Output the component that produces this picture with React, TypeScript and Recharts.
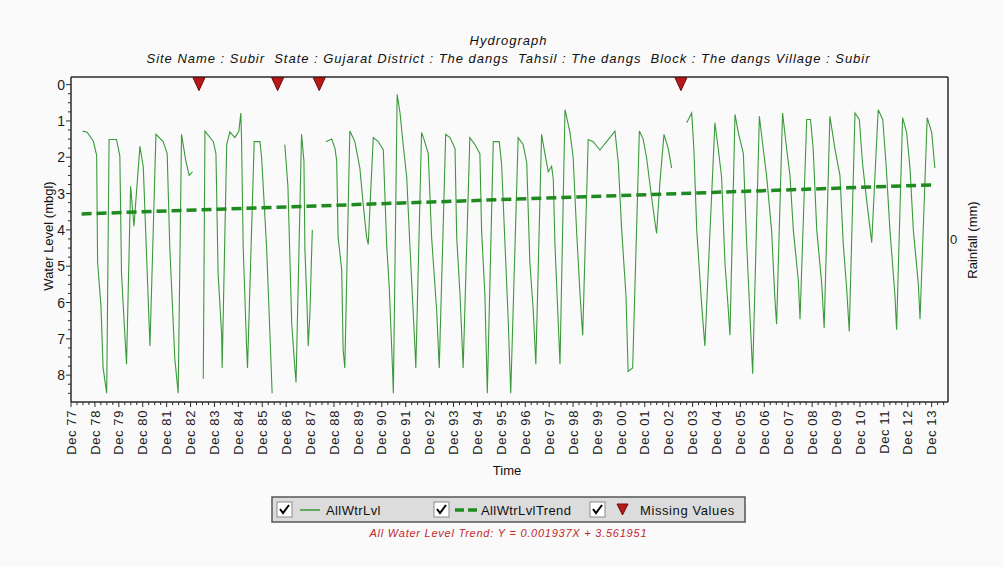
import React from 'react';
import { ComposedChart, Line, Scatter, XAxis, YAxis, ReferenceLine } from 'recharts';

const FONT = '"Liberation Sans", Arial, sans-serif';

// Time axis tick labels (one per December)
const tickLabels = [
  'Dec 77', 'Dec 78', 'Dec 79', 'Dec 80', 'Dec 81', 'Dec 82', 'Dec 83', 'Dec 84', 'Dec 85', 'Dec 86',
  'Dec 87', 'Dec 88', 'Dec 89', 'Dec 90', 'Dec 91', 'Dec 92', 'Dec 93', 'Dec 94', 'Dec 95', 'Dec 96',
  'Dec 97', 'Dec 98', 'Dec 99', 'Dec 00', 'Dec 01', 'Dec 02', 'Dec 03', 'Dec 04', 'Dec 05', 'Dec 06',
  'Dec 07', 'Dec 08', 'Dec 09', 'Dec 10', 'Dec 11', 'Dec 12', 'Dec 13',
];
const firstDec = 1977.917;
const xEnd = 2014.6;
const yDomain: [number, number] = [-0.21, 8.74];
const levelTickLabels = [0, 1, 2, 3, 4, 5, 6, 7, 8];

// AllWtrLvl: decimal year and water level (mbgl); null = gap (missing value)
const levelT = [
  1978.40, 1978.59, 1978.85, 1978.99, 1979.03, 1979.17, 1979.26, 1979.41, 1979.51, 1979.82,
  1979.96, 1980.03, 1980.17, 1980.24, 1980.41, 1980.55, 1980.80, 1980.94, 1981.10, 1981.22,
  1981.47, 1981.77, 1981.94, 1982.05, 1982.26, 1982.40, 1982.54, 1982.72, 1982.86, 1983.00,
  1983.27,
  1983.45, 1983.52, 1983.87, 1983.98, 1984.07, 1984.22, 1984.24, 1984.43, 1984.56, 1984.77,
  1984.94, 1985.02, 1985.05, 1985.12, 1985.26, 1985.30, 1985.58, 1985.82, 1985.89, 1986.10,
  1986.24, 1986.33,
  1986.56,
  1986.86, 1986.99, 1987.15, 1987.28, 1987.33, 1987.56, 1987.66, 1987.70, 1987.80, 1987.84,
  1987.91, 1988.01,
  1988.30,
  1988.58, 1988.82, 1988.96, 1989.03, 1989.09, 1989.24, 1989.30, 1989.37, 1989.58, 1989.79,
  1990.00, 1990.14, 1990.28, 1990.35, 1990.42, 1990.56, 1990.77, 1990.98, 1991.12, 1991.23,
  1991.37, 1991.40, 1991.56, 1991.68, 1991.81, 1991.96, 1992.09, 1992.30, 1992.34, 1992.58,
  1992.68, 1992.86, 1993.00, 1993.21, 1993.32, 1993.59, 1993.77, 1993.98, 1994.05, 1994.19,
  1994.32, 1994.60, 1994.81, 1995.02, 1995.09, 1995.23, 1995.33, 1995.58, 1995.83, 1995.93,
  1996.07, 1996.20, 1996.31, 1996.62, 1996.83, 1996.98, 1997.11, 1997.25, 1997.36, 1997.60,
  1997.74, 1997.88, 1998.02, 1998.09, 1998.16, 1998.30, 1998.37, 1998.58, 1998.79, 1998.92,
  1999.07, 1999.21, 1999.32, 1999.55, 1999.76, 2000.04, 2000.32, 2000.67, 2000.81, 2000.95,
  2001.13, 2001.22, 2001.41, 2001.69, 2001.85, 2001.99, 2002.20, 2002.41, 2002.55, 2002.72,
  2002.90, 2003.04,
  2003.43,
  2003.67, 2003.88, 2003.97, 2004.09, 2004.30, 2004.43, 2004.85, 2004.99, 2005.13, 2005.27,
  2005.41, 2005.48, 2005.69, 2005.83, 2006.04, 2006.18, 2006.32, 2006.43, 2006.71, 2006.87,
  2007.01, 2007.22, 2007.36, 2007.43, 2007.68, 2007.85, 2007.99, 2008.13, 2008.34, 2008.41,
  2008.69, 2008.85, 2008.96, 2009.11, 2009.32, 2009.42, 2009.66, 2009.87, 2010.08, 2010.22,
  2010.36, 2010.47, 2010.71, 2010.89, 2011.03, 2011.20, 2011.41, 2011.68, 2011.87, 2012.01,
  2012.17, 2012.38, 2012.45, 2012.70, 2012.87, 2013.01, 2013.15, 2013.36, 2013.43, 2013.73,
  2013.92, 2014.05,
];
const levelV: (number | null)[] = [
  1.28, 1.31, 1.56, 1.95, 4.9, 6.1, 7.8, 8.5, 1.51, 1.51,
  1.97, 5.2, 6.9, 7.7, 2.8, 3.9, 1.7, 2.26, 5.1, 7.2,
  1.37, 1.57, 1.9, 4.5, 7.55, 8.5, 1.37, 2.1, 2.5, 2.4,
  null,
  8.1, 1.28, 1.57, 1.9, 5.2, 6.9, 7.8, 1.65, 1.3, 1.46,
  1.28, 0.78, 1.46, 4.5, 7.2, 7.8, 1.57, 1.57, 2.0, 4.5,
  6.9, 8.5,
  null,
  1.65, 2.8, 6.6, 7.8, 8.2, 1.37, 2.1, 4.5, 6.3, 7.2,
  6.3, 4.0,
  null,
  1.57, 1.5, 1.76, 2.1, 4.2, 5.1, 7.3, 7.8, 1.28, 1.57,
  2.3, 3.3, 4.2, 4.4, 3.4, 1.46, 1.57, 1.8, 4.4, 5.6,
  7.9, 8.5, 0.27, 0.78, 1.65, 2.55, 4.4, 7.2, 7.8, 1.32,
  1.5, 1.9, 4.2, 6.2, 7.8, 1.37, 1.46, 1.76, 4.2, 5.8,
  7.8, 1.46, 1.65, 1.9, 4.0, 5.8, 8.5, 1.57, 1.57, 2.2,
  4.4, 6.4, 8.5, 1.46, 1.65, 2.15, 4.9, 6.2, 7.7, 1.37,
  1.9, 2.4, 2.25, 2.6, 4.4, 6.6, 7.7, 0.69, 1.32, 2.0,
  4.1, 5.8, 6.9, 1.51, 1.57, 1.8, 1.57, 1.28, 2.15, 4.0,
  5.8, 7.9, 7.8, 1.28, 1.5, 2.0, 3.1, 4.1, 2.7, 1.37,
  1.76, 2.3,
  null,
  1.05, 0.78, 1.76, 4.0, 6.1, 7.2, 1.05, 1.76, 2.55, 4.9,
  6.2, 6.9, 0.82, 1.32, 1.9, 4.4, 6.4, 7.96, 0.87, 1.76,
  2.5, 4.0, 5.9, 6.6, 0.78, 1.76, 2.5, 4.0, 5.4, 6.46,
  0.96, 0.96, 1.76, 4.0, 5.5, 6.7, 0.87, 1.76, 2.5, 4.4,
  5.6, 6.8, 0.78, 0.96, 2.2, 3.2, 4.35, 0.69, 0.96, 2.2,
  4.0, 5.8, 6.75, 0.91, 1.32, 2.3, 4.0, 5.5, 6.46, 0.91,
  1.32, 2.3,
];

// AllWtrLvlTrend (linear)
const trendT = [1978.36, 2014.05];
const trendV = [3.56, 2.76];

// Missing values markers
const missingT = [1983.27, 1986.56, 1988.30, 2003.43];
const missingV = [0, 0, 0, 0];

const levelData = levelT.map((t, i) => ({ t, v: levelV[i] }));
const trendData = trendT.map((t, i) => ({ t, v: trendV[i] }));
const missingData = missingT.map((t, i) => ({ t, v: missingV[i] }));

const xTicks: number[] = [];
for (let k = 0; firstDec + k * 0.25 <= xEnd; k++) xTicks.push(+(firstDec + k * 0.25).toFixed(4));
const yTicks: number[] = [];
for (let k = 0; k * 0.25 <= 8.5; k++) yTicks.push(k * 0.25);

const LINE_GREEN = '#3a9a3a';
const TREND_GREEN = '#1f8a1f';
const AXIS = '#2a2a2a';

const XTick = (props: any) => {
  const { x, y, payload } = props;
  const k = Math.round((payload.value - firstDec) / 0.25);
  const major = k % 4 === 0;
  const label = major ? tickLabels[k / 4] : undefined;
  const ly = y + 8;
  return (
    <g>
      <line x1={x} x2={x} y1={y} y2={y + (major ? 5 : 3)} stroke={AXIS} strokeWidth={1} />
      {label && (
        <text x={x} y={ly} transform={`rotate(-90 ${x} ${ly})`} textAnchor="end" dy="0.36em"
          fontSize={13} fontFamily={FONT} fill="#1a1a1a" letterSpacing={0.6}>{label}</text>
      )}
    </g>
  );
};

const YTick = (props: any) => {
  const { x, y, payload } = props;
  const v = payload.value;
  const major = Math.abs(v - Math.round(v)) < 1e-6;
  const label = major && levelTickLabels.includes(Math.round(v)) ? String(Math.round(v)) : undefined;
  return (
    <g>
      <line x1={x - (major ? 5 : 3)} x2={x} y1={y} y2={y} stroke={AXIS} strokeWidth={1} />
      {label !== undefined && (
        <text x={x - 6} y={y} dy="0.36em" textAnchor="end" fontSize={14} fontFamily={FONT} fill="#1a1a1a">{label}</text>
      )}
    </g>
  );
};

const RainTick = (props: any) => {
  const { x, y, payload } = props;
  return (
    <text x={x + 2} y={y} dy="0.36em" textAnchor="start" fontSize={13} fontFamily={FONT} fill="#1a1a1a">{String(payload.value)}</text>
  );
};

const MissingShape = (props: any) => {
  const { cx, cy } = props;
  if (cx == null || cy == null) return null;
  return (
    <polygon points={`${cx - 6},${cy - 7} ${cx + 6},${cy - 7} ${cx},${cy + 6}`} fill="#b51a1a" stroke="#6e0c0c" strokeWidth={1} />
  );
};

const CheckBox = ({ x, y }: { x: number; y: number }) => (
  <g>
    <rect x={x} y={y} width={15} height={15} fill="#ffffff" stroke="#8a8a8a" strokeWidth={1} />
    <path d={`M ${x + 3} ${y + 7} L ${x + 6} ${y + 11} L ${x + 12} ${y + 3}`} fill="none" stroke="#000" strokeWidth={2} />
  </g>
);

export default function App() {
  return (
    <div style={{ position: 'absolute', left: 0, top: 0, width: 1004, height: 567, background: '#fafafa', fontFamily: FONT }}>
      <ComposedChart width={1004} height={567} data={levelData} margin={{ top: 77, right: 0, bottom: 0, left: 0 }}>
        <XAxis dataKey="t" type="number" domain={[firstDec, xEnd]} allowDataOverflow ticks={xTicks} interval={0}
          tick={XTick} tickLine={false} tickSize={0} tickMargin={0} height={165}
          axisLine={{ stroke: AXIS, strokeWidth: 1.5 }} />
        <YAxis dataKey="v" type="number" domain={yDomain} allowDataOverflow reversed ticks={yTicks} interval={0}
          tick={YTick} tickLine={false} tickSize={0} tickMargin={0} width={71}
          axisLine={{ stroke: AXIS, strokeWidth: 1.5 }} />
        <YAxis yAxisId="rain" orientation="right" type="number" domain={[-1, 1]} allowDataOverflow ticks={[0]} interval={0}
          tick={RainTick} tickLine={false} tickSize={0} tickMargin={0} width={56}
          axisLine={{ stroke: AXIS, strokeWidth: 1.5 }} />
        <ReferenceLine y={yDomain[0]} stroke={AXIS} strokeWidth={1.5} ifOverflow="extendDomain" />
        <Line dataKey="v" type="linear" stroke={LINE_GREEN} strokeWidth={1.1} dot={false} activeDot={false}
          connectNulls={false} isAnimationActive={false} />
        <Line data={trendData} dataKey="v" type="linear" stroke={TREND_GREEN} strokeWidth={3.5} strokeDasharray="10 5"
          dot={false} activeDot={false} isAnimationActive={false} />
        <Scatter data={missingData} dataKey="v" shape={MissingShape} isAnimationActive={false} />
      </ComposedChart>
      <svg width={1004} height={567} style={{ position: 'absolute', left: 0, top: 0, pointerEvents: 'none' }}>
        <text x={508} y={45} textAnchor="middle" fontSize={13} fontStyle="italic" fontFamily={FONT} fill="#111"
          textLength={77} lengthAdjust="spacing">Hydrograph</text>
        <text x={508} y={63} textAnchor="middle" fontSize={13} fontStyle="italic" fontFamily={FONT} fill="#111"
          style={{ whiteSpace: 'pre' }} textLength={723} lengthAdjust="spacing">
          {'Site Name : Subir  State : Gujarat District : The dangs  Tahsil : The dangs  Block : The dangs Village : Subir'}
        </text>
        <text x={48} y={236} transform="rotate(-90 48 236)" textAnchor="middle" dy="0.36em" fontSize={13} fontFamily={FONT} fill="#111">Water Level (mbgl)</text>
        <text x={972} y={240} transform="rotate(-90 972 240)" textAnchor="middle" dy="0.36em" fontSize={13} fontFamily={FONT} fill="#111">Rainfall (mm)</text>
        <text x={507} y={475} textAnchor="middle" fontSize={13} fontFamily={FONT} fill="#111">Time</text>

        <rect x={272} y={497} width={473} height={25} fill="#dcdcdc" stroke="#555" strokeWidth={1.5} />
        <CheckBox x={277} y={502} />
        <line x1={300} x2={320} y1={510} y2={510} stroke={LINE_GREEN} strokeWidth={1.5} />
        <text x={326} y={515} fontSize={13} fontFamily={FONT} fill="#111" letterSpacing={0.4}>AllWtrLvl</text>
        <CheckBox x={434} y={502} />
        <line x1={455} x2={480} y1={510} y2={510} stroke={TREND_GREEN} strokeWidth={3.5} strokeDasharray="9 4" />
        <text x={481} y={515} fontSize={13} fontFamily={FONT} fill="#111" letterSpacing={0.4}>AllWtrLvlTrend</text>
        <CheckBox x={590} y={502} />
        <polygon points="617,504 628,504 622.5,515" fill="#b51a1a" stroke="#6e0c0c" strokeWidth={1} />
        <text x={640} y={515} fontSize={13} fontFamily={FONT} fill="#111" letterSpacing={0.6}>Missing Values</text>

        <text x={508} y={537} textAnchor="middle" fontSize={11} fontStyle="italic" fontFamily={FONT} fill="#c4262c"
          textLength={277} lengthAdjust="spacing">All Water Level Trend: Y = 0.001937X + 3.561951</text>
      </svg>
    </div>
  );
}
